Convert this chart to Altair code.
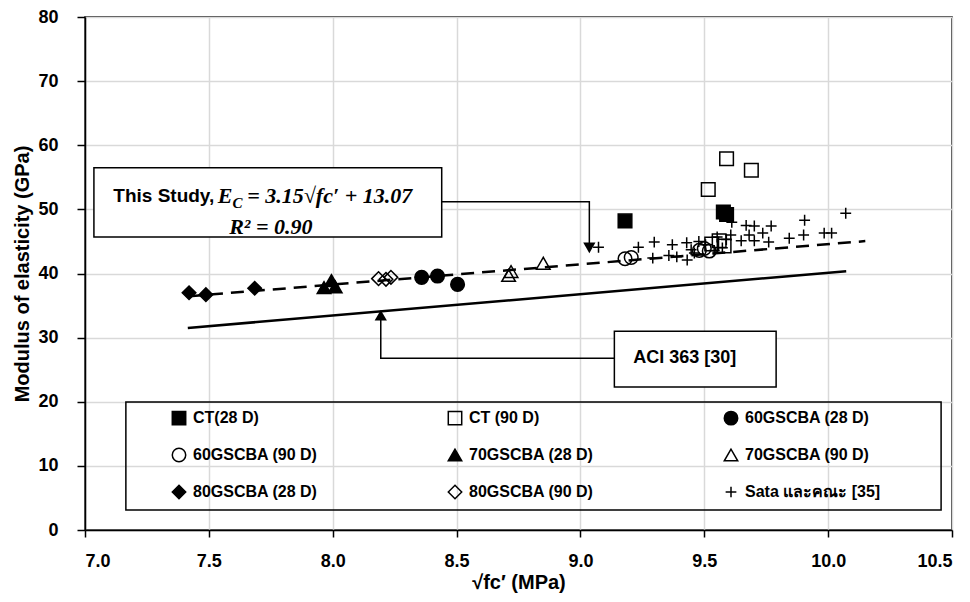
import altair as alt
import pandas as pd

# ---------------- data ----------------
series_names = ["CT(28 D)", "CT (90 D)", "60GSCBA (28 D)", "60GSCBA (90 D)",
                "70GSCBA (28 D)", "70GSCBA (90 D)", "80GSCBA (28 D)",
                "80GSCBA (90 D)", "Sata  และคณะ [35]"]

ct28_x = [9.18, 9.577, 9.59]
ct28_y = [48.2, 49.6, 49.2]
ct90_x = [9.516, 9.59, 9.69, 9.53, 9.56, 9.58]
ct90_y = [53.1, 57.9, 56.1, 44.6, 45.1, 44.3]
g60_28_x = [8.359, 8.423, 8.504]
g60_28_y = [39.4, 39.6, 38.3]
g60_90_x = [9.18, 9.205, 9.48, 9.50, 9.52]
g60_90_y = [42.3, 42.5, 43.6, 43.9, 43.5]
g70_28_x = [7.965, 7.995, 8.01]
g70_28_y = [37.8, 38.9, 37.9]
g70_90_x = [8.71, 8.72, 8.85]
g70_90_y = [39.7, 40.3, 41.6]
g80_28_x = [7.42, 7.488, 7.685]
g80_28_y = [37.0, 36.7, 37.7]
g80_90_x = [8.185, 8.215, 8.235]
g80_90_y = [39.2, 39.1, 39.4]
sata_x = [9.073, 9.234, 9.298, 9.292, 9.371, 9.357, 9.389, 9.429, 9.431, 9.447,
          9.478, 9.46, 9.505, 9.54, 9.552, 9.573, 9.589, 9.611, 9.607, 9.649,
          9.669, 9.702, 9.681, 9.702, 9.736, 9.77, 9.76, 9.843, 9.905, 9.901,
          9.984, 10.014, 10.071]
sata_y = [44.1, 44.1, 44.9, 42.4, 44.5, 42.8, 42.6, 44.8, 42.1, 43.7,
          45.0, 43.2, 44.5, 43.6, 45.7, 44.0, 45.3, 48.0, 46.0, 45.1,
          47.5, 47.4, 46.0, 45.1, 46.3, 47.4, 44.9, 45.5, 48.3, 46.0,
          46.3, 46.3, 49.4]

# fitted lines (end points)
study_x = [7.42, 10.15]
study_y = [36.45, 45.05]
aci_x = [7.415, 10.073]
aci_y = [31.5, 40.35]

# axis ticks
x_ticks = [7.0, 7.5, 8.0, 8.5, 9.0, 9.5, 10.0, 10.5]
y_ticks = [0, 10, 20, 30, 40, 50, 60, 70, 80]

# annotation geometry (data units)
study_box = dict(x=7.036, x2=8.44, y=56.5, y2=45.7)
aci_box = dict(x=9.137, x2=9.79, y=31.0, y2=22.3)
legend_box = dict(x=7.165, x2=10.456, y=19.97, y2=3.12)
study_leader_x = [8.44, 9.036, 9.036]
study_leader_y = [51.2, 51.2, 44.6]
aci_leader_x = [9.137, 8.194, 8.194]
aci_leader_y = [26.8, 26.8, 32.8]
study_head = dict(x=9.036, y=44.0)
aci_head = dict(x=8.194, y=33.5)

# ---------------- frames ----------------
xs = [ct28_x, ct90_x, g60_28_x, g60_90_x, g70_28_x, g70_90_x, g80_28_x, g80_90_x, sata_x]
ys = [ct28_y, ct90_y, g60_28_y, g60_90_y, g70_28_y, g70_90_y, g80_28_y, g80_90_y, sata_y]
rows = []
for name, sx, sy in zip(series_names, xs, ys):
    for a, b in zip(sx, sy):
        rows.append({"series": name, "x": a, "y": b})
pts = pd.DataFrame(rows)

plus_path = "M-0.8,0L0.8,0M0,-0.8L0,0.8"
shapes = ["square", "square", "circle", "circle", "triangle-up", "triangle-up",
          "diamond", "diamond", plus_path]
fills = ["black", "transparent", "black", "transparent", "black", "transparent",
         "black", "transparent", "transparent"]
strokes = ["black"] * 9

FONT = "Liberation Sans"
NARROW = "Liberation Sans Narrow, Liberation Sans"
SERIF = "Liberation Serif, DejaVu Serif"

xscale = alt.Scale(domain=[7.0, 10.5], nice=False)
yscale = alt.Scale(domain=[0, 80], nice=False)
x_axis = alt.Axis(title="√fc′ (MPa)", values=x_ticks, format=".1f", grid=True)
y_axis = alt.Axis(title="Modulus of elasticity (GPa)", values=y_ticks, grid=True)


def X(f="x:Q"):
    return alt.X(f, scale=xscale, axis=x_axis)


def Y(f="y:Q"):
    return alt.Y(f, scale=yscale, axis=y_axis)


# boxes
boxes_df = pd.DataFrame([dict(k="study", **study_box), dict(k="aci", **aci_box)])
boxes = alt.Chart(boxes_df).mark_rect(stroke="black", strokeWidth=1.5, fill="white").encode(
    x=X(), x2="x2:Q", y=Y(), y2="y2:Q")
lbox_df = pd.DataFrame([legend_box])
lbox = alt.Chart(lbox_df).mark_rect(stroke="black", strokeWidth=1.5, fillOpacity=0).encode(
    x=X(), x2="x2:Q", y=Y(), y2="y2:Q")

# leader lines
lead_rows = []
for i, (a, b) in enumerate(zip(study_leader_x, study_leader_y)):
    lead_rows.append({"g": "study", "o": i, "x": a, "y": b})
for i, (a, b) in enumerate(zip(aci_leader_x, aci_leader_y)):
    lead_rows.append({"g": "aci", "o": i, "x": a, "y": b})
leaders = alt.Chart(pd.DataFrame(lead_rows)).mark_line(color="black", strokeWidth=1.5).encode(
    x=X(), y=Y(), detail="g:N", order="o:Q")

heads_df = pd.DataFrame([dict(s="triangle-down", **study_head), dict(s="triangle-up", **aci_head)])
heads = alt.Chart(heads_df).mark_point(filled=True, color="black", size=150, opacity=1).encode(
    x=X(), y=Y(), shape=alt.Shape("s:N", scale=None, legend=None))

# fitted lines
study_df = pd.DataFrame({"x": study_x, "y": study_y})
aci_df = pd.DataFrame({"x": aci_x, "y": aci_y})
study_line = alt.Chart(study_df).mark_line(
    color="black", strokeWidth=2.5, strokeDash=[13, 8]).encode(x=X(), y=Y())
aci_line = alt.Chart(aci_df).mark_line(color="black", strokeWidth=2.5).encode(x=X(), y=Y())

legend = alt.Legend(title=None, orient="none", legendX=86, legendY=393, columns=3,
                    direction="horizontal",
                    gridAlign="all", columnPadding=112, rowPadding=17, padding=0,
                    symbolSize=180, symbolStrokeColor="black", symbolStrokeWidth=1.5,
                    labelFont=NARROW, labelFontSize=16, labelFontWeight="bold",
                    labelColor="black", labelOffset=6, labelLimit=300)

points = alt.Chart(pts).mark_point(size=185, strokeWidth=1.5, opacity=1).encode(
    x=X(), y=Y(),
    shape=alt.Shape("series:N", sort=series_names,
                    scale=alt.Scale(domain=series_names, range=shapes), legend=legend),
    fill=alt.Fill("series:N", sort=series_names,
                  scale=alt.Scale(domain=series_names, range=fills), legend=legend),
    stroke=alt.Stroke("series:N", sort=series_names,
                      scale=alt.Scale(domain=series_names, range=strokes), legend=legend),
)

# texts
txt_df = pd.DataFrame([
    {"t": "This Study,", "x": 7.522, "y": 52.1, "f": FONT, "s": 19, "a": "right", "st": "normal"},
    {"t": "E", "x": 7.536, "y": 52.1, "f": SERIF, "s": 22, "a": "left", "st": "italic"},
    {"t": "C", "x": 7.595, "y": 51.0, "f": SERIF, "s": 15, "a": "left", "st": "italic"},
    {"t": "= 3.15√fc′ + 13.07", "x": 7.655, "y": 52.1, "f": SERIF, "s": 22, "a": "left", "st": "italic"},
    {"t": "R² = 0.90", "x": 7.75, "y": 47.3, "f": SERIF, "s": 22, "a": "center", "st": "italic"},
    {"t": "ACI 363 [30]", "x": 9.421, "y": 26.8, "f": FONT, "s": 18, "a": "center", "st": "normal"},
])
texts = []
for _, r in txt_df.iterrows():
    texts.append(alt.Chart(txt_df[txt_df.t == r.t]).mark_text(
        font=r.f, fontSize=int(r.s), fontWeight="bold", fontStyle=r.st, align=r.a,
        baseline="middle", color="black").encode(x=X(), y=Y(), text="t:N"))

chart = alt.layer(lbox, boxes, leaders, aci_line, study_line, points, heads, *texts).properties(
    width=867, height=513,
    autosize=alt.AutoSizeParams(type="none"),
    padding={"left": 77, "top": 9, "right": 10, "bottom": 64},
).configure_view(stroke="black", strokeWidth=1.5).configure_axis(
    gridColor="#d9d9d9", gridWidth=1.5, domainColor="black", domainWidth=1.5,
    tickColor="black", tickWidth=1.5, labelFont=FONT, labelFontSize=18,
    labelFontWeight="bold", labelColor="black", titleFont=FONT, titleFontSize=20,
    titleFontWeight="bold", titleColor="black",
).configure_axisX(tickSize=7, labelPadding=15, titlePadding=2, titleFontSize=20).configure_axisY(
    tickSize=8, labelPadding=19, titlePadding=5)

chart.save("out.html", embed_options={"renderer": "svg", "actions": False})
